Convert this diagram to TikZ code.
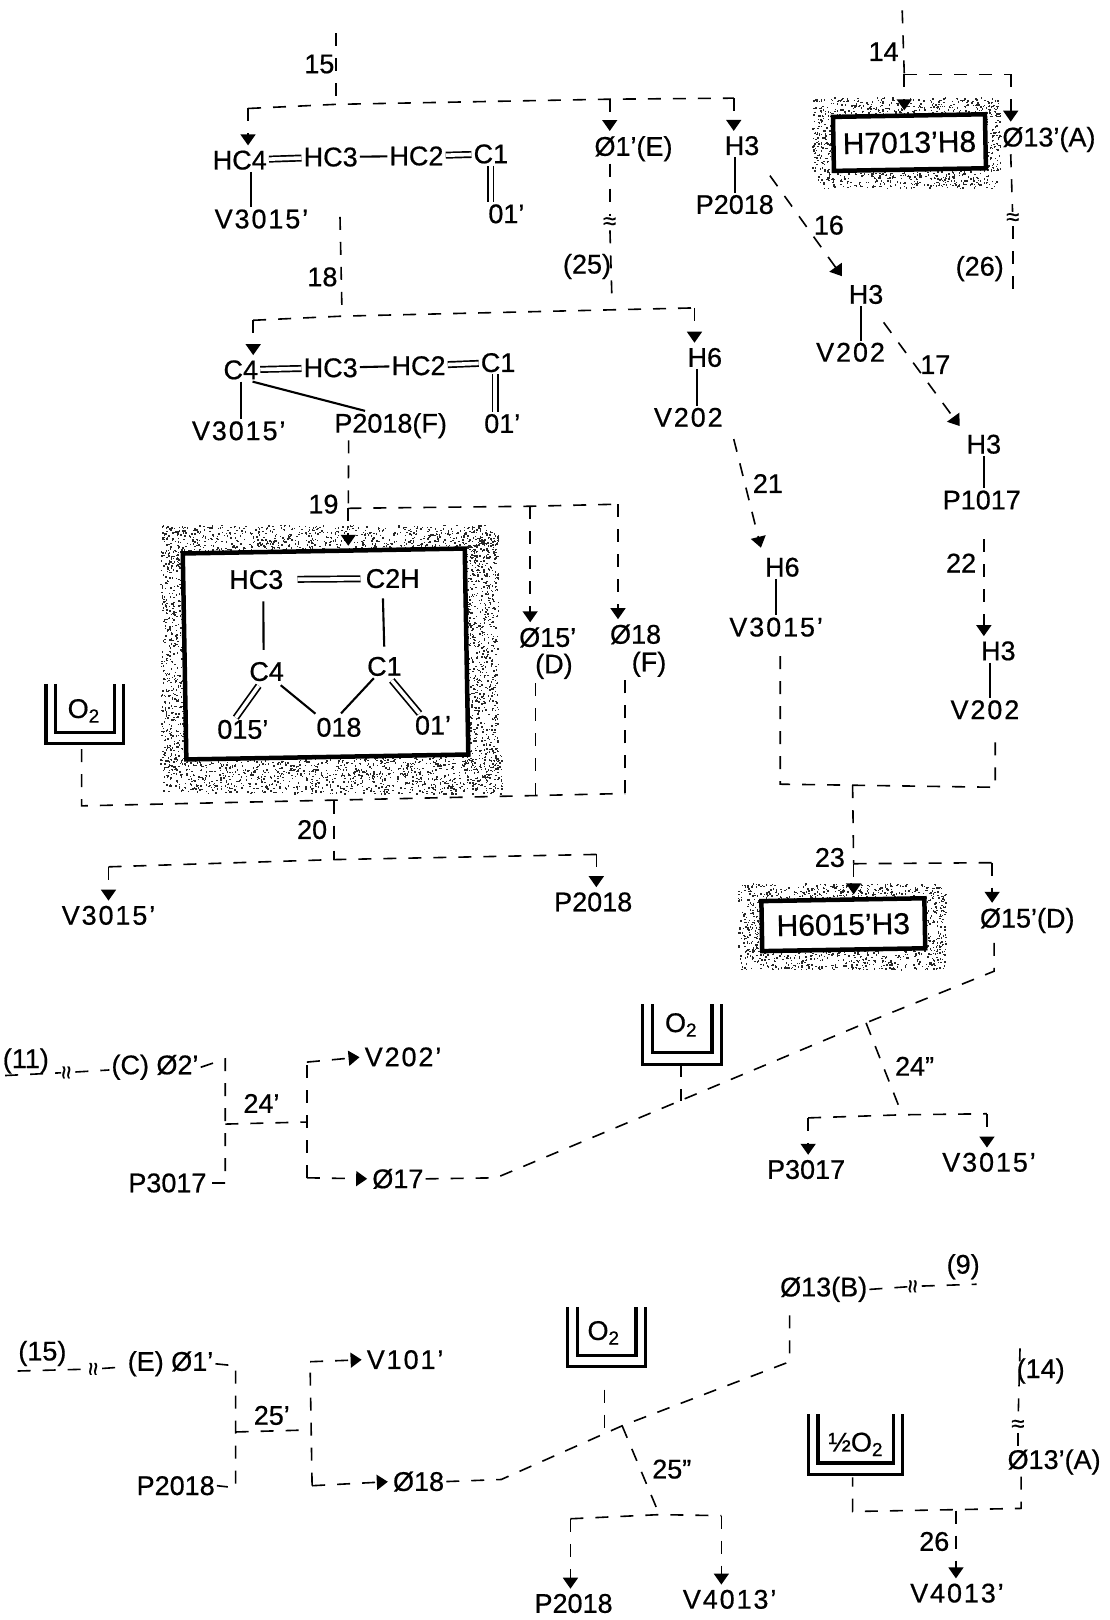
\documentclass[tikz,border=0pt]{standalone}
\usepackage{fontspec}
\setmainfont{Liberation Sans}[FakeBold=0.6]
\usetikzlibrary{arrows.meta,calc}
\newcommand{\stipdots}[5]{%
  \foreach \i in {1,...,#5}{%
    \pgfmathsetmacro\ax{#1+rnd*(#3-#1)}%
    \pgfmathsetmacro\ay{#2+rnd*(#4-#2)}%
    \fill[black!85] (\ax,\ay) rectangle +(1.4,1.4);%
  }}
\tikzset{
  lab/.style={inner sep=2pt,font=\fontsize{27}{30}\selectfont},
  wlab/.style={inner sep=2pt,font=\fontsize{27}{30}\selectfont\addfontfeature{LetterSpace=7}},
  biglab/.style={inner sep=2pt,font=\fontsize{30}{32}\selectfont},
  flow/.style={line width=1.6pt,dash pattern=on 13pt off 12pt},
  flowtip/.style={flow,-{Triangle[length=11pt,width=15pt]},shorten >=3pt},
  flowslant/.style={flowtip,shorten >=8pt},
  bond/.style={line width=2.1pt},
  dbl/.style={line width=1.7pt,double,double distance=3.6pt},
  frame/.style={draw,line width=4.5pt,fill=white,inner sep=0pt,rotate=1},
  squig/.style={inner sep=1pt,font=\fontsize{24}{26}\selectfont},
  beakerline/.style={line width=3.2pt,line join=miter},
  pics/beaker/.style={code={
    \draw[beakerline] ({-#1/2},0) -- ({-#1/2},58) -- ({#1/2},58) -- ({#1/2},0);
    \draw[beakerline] ({-#1/2+9},0) -- ({-#1/2+9},47) -- ({#1/2-9},47) -- ({#1/2-9},0);
  }}
}
\begin{document}
\begin{tikzpicture}[x=1.0335pt,y=-1.0332pt]
\useasboundingbox (0,0) rectangle (1074,1568);
\pgfmathsetseed{4711}
% stippled grounds
\stipdots{155}{508}{482}{540}{1000}
\stipdots{158}{730}{486}{768}{1150}
\stipdots{155}{530}{182}{745}{600}
\stipdots{448}{520}{482}{745}{750}
\stipdots{786}{94}{968}{112}{330}
\stipdots{788}{162}{965}{182}{350}
\stipdots{786}{110}{808}{165}{130}
\stipdots{952}{108}{968}{165}{90}
\stipdots{714}{855}{915}{872}{340}
\stipdots{716}{918}{915}{938}{400}
\stipdots{714}{870}{738}{920}{130}
\stipdots{894}{868}{915}{920}{110}
% framed product boxes
\node[frame,minimum width=282pt,minimum height=206pt] (mainbox) at (315,633) {};
\node[frame,minimum width=152pt,minimum height=54pt] (boxa) at (880,138) {};
\node[frame,minimum width=163pt,minimum height=50pt] (boxb) at (816,895) {};
\node[biglab,rotate=1] (ha) at (880,138) {H7013'H8};
\node[biglab,rotate=1] (hb) at (816,895) {H6015'H3};
% reaction numbers
\node[lab] (n15) at (309,62) {15};
\node[lab] (n14) at (855,50) {14};
\node[lab] (n16) at (802,218) {16};
\node[lab] (n17) at (905,353) {17};
\node[lab] (n18) at (312,268) {18};
\node[lab] (n19) at (313,488) {19};
\node[lab] (n20) at (302,803) {20};
\node[lab] (n21) at (743,468) {21};
\node[lab] (n22) at (930,545) {22};
\node[lab] (n23) at (803,830) {23};
\node[lab] (n24a) at (253,1068) {24'};
\node[lab] (n24b) at (885,1032) {24''};
\node[lab] (n25a) at (263,1370) {25'};
\node[lab] (n25b) at (650,1422) {25''};
\node[lab] (n26) at (904,1492) {26};
\node[lab] (r25) at (568,258) {(25)};
\node[lab] (r26) at (948,260) {(26)};
\node[lab] (r11) at (25,1027) {(11)};
\node[lab] (r15) at (41,1310) {(15)};
\node[lab] (r9) at (932,1226) {(9)};
\node[lab] (r14) at (1007,1327) {(14)};
% first chain
\node[lab] (ahc4) at (232,155) {HC4};
\node[lab] (ahc3) at (320,152) {HC3};
\node[lab] (ahc2) at (403,151) {HC2};
\node[lab] (ac1) at (475,149) {C1};
\node[wlab] (av) at (253,212) {V3015'};
\node[lab] (ao) at (490,207) {01'};
\draw[dbl] (ahc4) -- (ahc3);
\draw[bond] (ahc3) -- (ahc2);
\draw[dbl] (ahc2) -- (ac1);
\draw[bond] ([xshift=11pt]ahc4.south) -- ([xshift=11pt]ahc4.south |- av.north);
\draw[dbl] (ac1.south) -- (ac1.south |- ao.north);
% second chain
\node[lab] (bc4) at (233,358) {C4};
\node[lab] (bhc3) at (320,356) {HC3};
\node[lab] (bhc2) at (405,354) {HC2};
\node[lab] (bc1) at (482,351) {C1};
\node[wlab] (bv) at (231,417) {V3015'};
\node[lab] (bp) at (378,412) {P2018(F)};
\node[lab] (bo) at (486,410) {01'};
\draw[dbl] (bc4) -- (bhc3);
\draw[bond] (bhc3) -- (bhc2);
\draw[dbl] (bhc2) -- (bc1);
\draw[bond] (bc4.south) -- (bc4.south |- bv.north);
\draw[bond] (bc4.-45) -- (bp.150);
\draw[dbl] ([xshift=-3pt]bc1.south) -- ([xshift=-3pt]bc1.south |- bo.north);
% anhydride in the main box
\node[lab] (mhc3) at (248,561) {HC3};
\node[lab] (mc2) at (380,560) {C2H};
\node[lab] (mc4) at (258,650) {C4};
\node[lab] (mc1) at (372,645) {C1};
\node[lab] (mo15) at (235,706) {015'};
\node[lab] (mo18) at (328,704) {018};
\node[lab] (mo1) at (419,702) {01'};
\draw[dbl,shorten <=12pt,shorten >=3pt] (mhc3) -- (mc2);
\draw[bond,shorten <=10pt,shorten >=10pt] ([xshift=7pt]mhc3.south) -- ([xshift=-3pt]mc4.north);
\draw[bond,shorten <=8pt,shorten >=8pt] ([xshift=-10pt]mc2.south) -- (mc1.north);
\draw[dbl,shorten <=3pt] (mc4.-118) -- (mo15.121);
\draw[bond,shorten <=3pt,shorten >=3pt] (mc4.-45) -- (mo18.151);
\draw[bond,shorten <=3pt] (mo18.90) -- (mc1.-132);
\draw[dbl,shorten <=3pt] (mc1.-65) -- (mo1.139);
% right column
\node[lab] (p1) at (613,144) {Ø1'(E)};
\node[lab] (h3a) at (718,141) {H3};
\node[lab] (p2a) at (711,198) {P2018};
\node[lab] (h3b) at (838,285) {H3};
\node[wlab] (v2a) at (823,341) {V202};
\node[lab] (h3c) at (952,430) {H3};
\node[lab] (p1c) at (950,484) {P1017};
\node[lab] (h3d) at (966,630) {H3};
\node[wlab] (v2d) at (953,687) {V202};
\node[lab] (h6a) at (682,346) {H6};
\node[wlab] (v2e) at (666,404) {V202};
\node[lab] (h6b) at (757,549) {H6};
\node[wlab] (v3b) at (751,607) {V3015'};
\node[lab] (o13a) at (1015,135) {Ø13'(A)};
\node[lab] (o15d) at (994,891) {Ø15'(D)};
\draw[bond] ([xshift=-7pt]h3a.south) -- ([xshift=-7pt]h3a.south |- p2a.north);
\draw[bond] ([xshift=-5pt]h3b.south) -- ([xshift=-5pt]h3b.south |- v2a.north);
\draw[bond] (h3c.south) -- (h3c.south |- p1c.north);
\draw[bond] ([xshift=-8pt]h3d.south) -- ([xshift=-8pt]h3d.south |- v2d.north);
\draw[bond] ([xshift=-8pt]h6a.south) -- ([xshift=-8pt]h6a.south |- v2e.north);
\draw[bond] ([xshift=-6pt]h6b.south) -- ([xshift=-6pt]h6b.south |- v3b.north);
% reaction 15
\coordinate (t15) at (325,32);
\coordinate (j15) at (325,101);
\coordinate (l15) at (240,105);
\coordinate (m15) at (590,96);
\coordinate (r15c) at (710,95);
\draw[flow] (t15) -- (j15);
\draw[flow] (l15) -- (j15) -- (m15) -- (r15c);
\draw[flowtip] (l15) -- (l15 |- ahc4.north);
\draw[flowtip] (m15) -- (m15 |- p1.north);
\draw[flowtip] (r15c) -- (r15c |- h3a.north);
% 25 exit
\node[squig] (sqa) at (590,216) {≈};
\coordinate (e25) at (592,285);
\draw[flow] (m15 |- p1.south) -- (sqa);
\draw[flow] (sqa) -- (e25);
% reaction 14
\coordinate (t14) at (873,10);
\coordinate (j14) at (875,72);
\coordinate (r14c) at (978,72);
\draw[flow] (t14) -- (j14);
\draw[flowtip] (j14) -- (j14 |- boxa.north);
\draw[flow] (j14) -- (r14c);
\draw[flowtip] (r14c) -- (r14c |- o13a.north);
\node[squig] (sqb) at (980,212) {≈};
\coordinate (e26) at (980,282);
\draw[flow] (r14c |- o13a.south) -- (sqb);
\draw[flow] (sqb) -- (e26);
% 16, 17, 22
\coordinate (s16) at (745,170);
\coordinate (s17) at (855,312);
\coordinate (s22) at (952,522);
\draw[flowslant] (s16) -- (h3b.north west);
\draw[flowslant] (s17) -- (h3c.north west);
\draw[flowtip] (s22) -- (s22 |- h3d.north);
% reaction 18
\coordinate (t18) at (329,210);
\coordinate (j18) at (331,306);
\coordinate (l18) at (245,310);
\coordinate (r18) at (672,298);
\draw[flow] (t18) -- (j18);
\draw[flow] (l18) -- (j18) -- (r18);
\draw[flowtip] (l18) -- (l18 |- bc4.north);
\draw[flowtip] (r18) -- (r18 |- h6a.north);
% 21
\coordinate (s21) at (710,425);
\draw[flowslant] (s21) -- (h6b.north west);
% reaction 19
\coordinate (j19) at (337,492);
\coordinate (d19) at (513,490);
\coordinate (f19) at (598,488);
\node[lab] (o15t) at (530,617) {Ø15'};
\node[lab] (dt) at (536,645) {(D)};
\node[lab] (o18t) at (615,614) {Ø18};
\node[lab] (ft) at (628,643) {(F)};
\draw[flow] ([xshift=-42pt]bp.south) -- (j19);
\draw[flowtip] (j19) -- (j19 |- mainbox.north);
\draw[flow] (j19) -- (d19) -- (f19);
\draw[flowtip] (d19) -- (d19 |- o15t.north);
\draw[flowtip] (f19) -- (f19 |- o18t.north);
% reaction 20
\node[lab] (oa) at (81,688) {O\textsubscript{2}};
\pic at (82,662) {beaker=75};
\coordinate (ba) at (79,725);
\coordinate (ca) at (79,780);
\coordinate (cd) at (518,770);
\coordinate (cf) at (605,768);
\coordinate (j20) at (323,775);
\coordinate (k20) at (323,832);
\coordinate (l20) at (105,839);
\coordinate (r20) at (577,827);
\node[wlab] (v20) at (105,886) {V3015'};
\node[lab] (p20) at (574,873) {P2018};
\draw[flow] (ba) -- (ca) -- (cd) -- (cf);
\draw[flow] (cd) -- (cd |- dt.south);
\draw[flow] (cf) -- (cf |- ft.south);
\draw[flow] (j20) -- (k20);
\draw[flow] (l20) -- (k20) -- (r20);
\draw[flowtip] (l20) -- (l20 |- v20.north);
\draw[flowtip] (r20) -- (r20 |- p20.north);
% reaction 23
\coordinate (a23) at (755,635);
\coordinate (b23) at (755,759);
\coordinate (c23) at (963,762);
\coordinate (d23) at (963,712);
\coordinate (j23) at (825,760);
\coordinate (k23) at (826,836);
\coordinate (r23) at (960,835);
\draw[flow] (a23) -- (b23) -- (c23) -- (d23);
\draw[flow] (j23) -- (k23);
\draw[flow] (k23) -- (r23);
\draw[flowtip] (k23) -- (k23 |- boxb.north);
\draw[flowtip] (r23) -- (r23 |- o15d.north);
% reactions 24
\node[lab] (o11) at (150,1033) {(C) Ø2'};
\node[wlab] (v2c) at (390,1023) {V202'};
\node[lab] (p3a) at (162,1145) {P3017};
\node[lab] (o17) at (385,1141) {Ø17};
\node[lab] (p3b) at (780,1132) {P3017};
\node[wlab] (v3c) at (957,1125) {V3015'};
\node[squig,rotate=90] (sqc) at (66,1038) {≈};
\coordinate (s11) at (5,1041);
\coordinate (a24) at (218,1025);
\coordinate (b24) at (218,1145);
\coordinate (m24) at (218,1088);
\coordinate (n24c) at (297,1086);
\coordinate (c24) at (297,1028);
\coordinate (d24) at (297,1140);
\draw[flow] (s11) -- (sqc);
\draw[flow] (sqc) -- (o11);
\draw[flow] (o11.east) -- (a24) -- (b24) -- (p3a.east);
\draw[flow] (m24) -- (n24c);
\draw[flow] (d24) -- (c24);
\draw[flowtip] (c24) -- (v2c.west);
\draw[flowtip] (d24) -- (o17.west);
\node[lab] (ob) at (659,992) {O\textsubscript{2}};
\pic at (660,972) {beaker=76};
\coordinate (bb) at (659,1030);
\coordinate (jb) at (659,1066);
\coordinate (k1) at (480,1140);
\coordinate (j24) at (838,990);
\coordinate (k3) at (962,940);
\coordinate (h24) at (873,1079);
\coordinate (l24) at (782,1082);
\coordinate (r24) at (955,1078);
\draw[flow] (bb) -- (jb);
\draw[flow] (o17.east) -- (k1) -- (j24) -- (k3) -- (k3 |- o15d.south);
\draw[flow] (j24) -- (h24);
\draw[flow] (l24) -- (h24) -- (r24);
\draw[flowtip] (l24) -- (l24 |- p3b.north);
\draw[flowtip] (r24) -- (r24 |- v3c.north);
% reactions 25
\node[lab] (o1e) at (165,1320) {(E) Ø1'};
\node[wlab] (v1) at (392,1316) {V101'};
\node[lab] (p2b) at (170,1438) {P2018};
\node[lab] (o18b) at (405,1434) {Ø18};
\node[lab] (o13b) at (797,1248) {Ø13(B)};
\node[lab] (p2c) at (555,1552) {P2018};
\node[wlab] (v4a) at (706,1548) {V4013'};
\node[squig,rotate=90] (sqd) at (92,1325) {≈};
\node[squig,rotate=90] (sqe) at (885,1245) {≈};
\coordinate (s15) at (17,1327);
\coordinate (a25) at (228,1322);
\coordinate (b25) at (228,1440);
\coordinate (m25) at (228,1386);
\coordinate (n25c) at (300,1384);
\coordinate (c25) at (300,1318);
\coordinate (d25) at (302,1438);
\coordinate (s9) at (945,1243);
\draw[flow] (s15) -- (sqd);
\draw[flow] (sqd) -- (o1e);
\draw[flow] (o1e.east) -- (a25) -- (b25) -- (p2b.east);
\draw[flow] (m25) -- (n25c);
\draw[flow] (d25) -- (c25);
\draw[flowtip] (c25) -- (v1.west);
\draw[flowtip] (d25) -- (o18b.west);
\draw[flow] (o13b.east) -- (sqe);
\draw[flow] (sqe) -- (s9);
\node[lab] (oc) at (584,1290) {O\textsubscript{2}};
\pic at (587,1265) {beaker=75};
\coordinate (bc) at (585,1345);
\coordinate (jc) at (585,1389);
\coordinate (k4) at (485,1432);
\coordinate (j25) at (602,1380);
\coordinate (k5) at (764,1318);
\coordinate (h25) at (638,1466);
\coordinate (l25) at (552,1470);
\coordinate (r25c) at (698,1467);
\draw[flow] (bc) -- (jc);
\draw[flow] (o18b.east) -- (k4) -- (j25) -- (k5) -- (k5 |- o13b.south);
\draw[flow] (j25) -- (h25);
\draw[flow] (l25) -- (h25) -- (r25c);
\draw[flowtip] (l25) -- (l25 |- p2c.north);
\draw[flowtip] (r25c) -- (r25c |- v4a.north);
% reaction 26
\node[lab] (hf) at (828,1398) {½O\textsubscript{2}};
\pic at (828,1369) {beaker=91};
\node[lab] (o13c) at (1020,1415) {Ø13'(A)};
\node[wlab] (v4b) at (926,1542) {V4013'};
\node[squig] (sqf) at (985,1380) {≈};
\coordinate (t26) at (987,1305);
\coordinate (a26) at (988,1460);
\coordinate (b26) at (825,1463);
\coordinate (c26) at (825,1430);
\coordinate (j26) at (925,1462);
\draw[flow] (t26) -- (sqf);
\draw[flow] (sqf) -- (sqf |- o13c.north);
\draw[flow] (a26 |- o13c.south) -- (a26) -- (b26) -- (c26);
\draw[flowtip] (j26) -- (j26 |- v4b.north);
\end{tikzpicture}
\end{document}
